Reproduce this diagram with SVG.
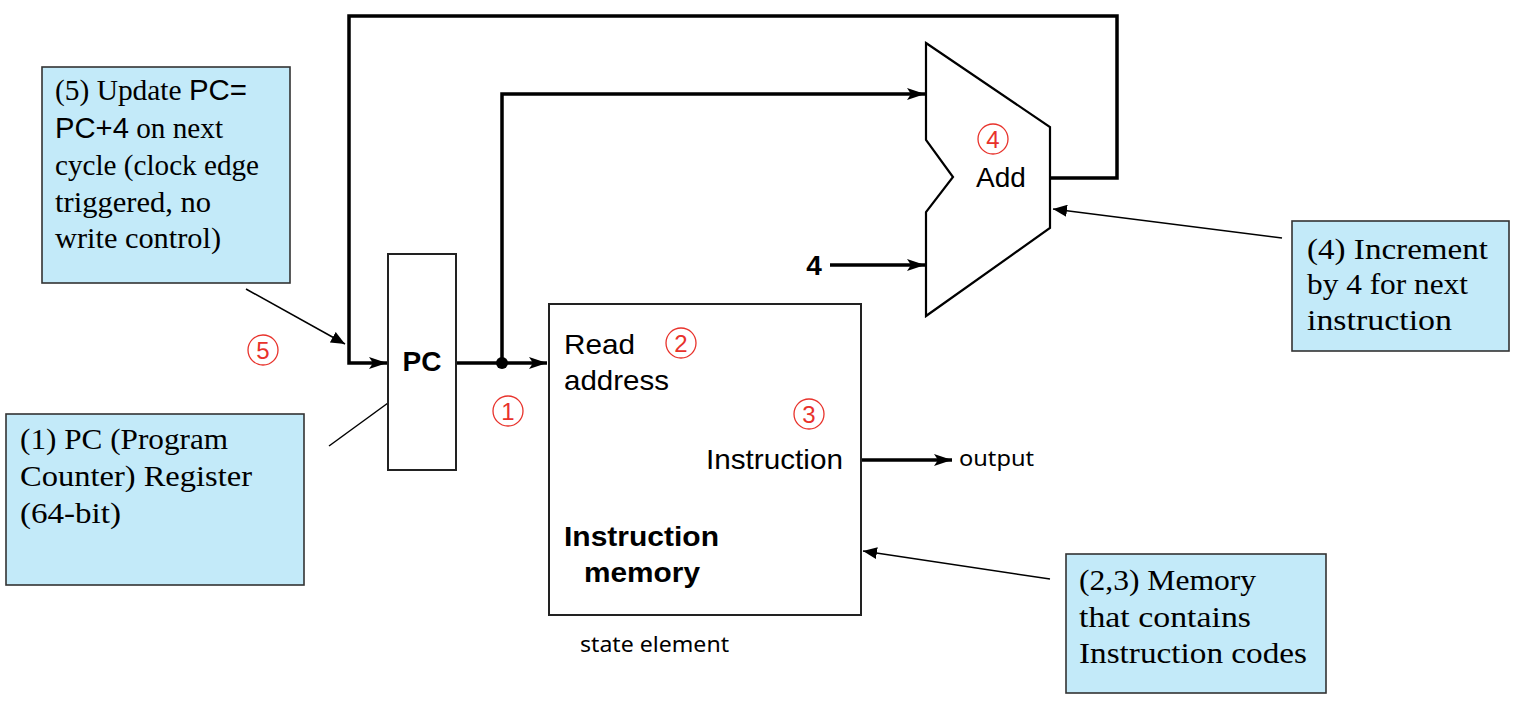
<svg xmlns="http://www.w3.org/2000/svg" width="1522" height="710" viewBox="0 0 1522 710">
<style>
.note{fill:#c3eaf9;stroke:#333;stroke-width:1.6}
.nt{font-family:"Liberation Serif",serif;font-size:30px;fill:#000}
.sans{font-family:"Liberation Sans",Arial,sans-serif}
.wire{fill:none;stroke:#000;stroke-width:3.5}
.lead{fill:none;stroke:#000;stroke-width:1.5}
.blk{fill:#fff;stroke:#222;stroke-width:2}
.lbl{font-family:"Liberation Sans",Arial,sans-serif;font-size:28px;fill:#000}
.b{font-weight:bold}
.sm{font-family:"Noto Sans","Open Sans",sans-serif;font-size:22px;fill:#000}
.num circle{fill:none;stroke:#e8322b;stroke-width:1.3}
.num text{font-family:"Liberation Sans",Arial,sans-serif;font-size:24px;fill:#e8322b;text-anchor:middle}
</style>
<defs>
<marker id="ah" markerUnits="userSpaceOnUse" markerWidth="20" markerHeight="14" refX="18" refY="7" orient="auto">
<path d="M0,1 L18,7 L0,13 L4,7 Z" fill="#000"/>
</marker>
<marker id="as" markerUnits="userSpaceOnUse" markerWidth="16" markerHeight="12" refX="14" refY="6" orient="auto">
<path d="M0,0 L14,6 L0,12 Z" fill="#000"/>
</marker>
</defs>
<rect width="1522" height="710" fill="#fff"/>

<g id="connectors">
<path class="wire" d="M1050,178 H1117 V16 H349 V363 H387" marker-end="url(#ah)"/>
<path class="wire" d="M456,363 H547" marker-end="url(#ah)"/>
<path class="wire" d="M502,363 V94 H925" marker-end="url(#ah)"/>
<path class="wire" d="M830,265 H925" marker-end="url(#ah)"/>
<path class="wire" d="M861,460 H952" marker-end="url(#ah)"/>
<circle cx="502" cy="363" r="6" fill="#000"/>
<path class="lead" d="M1282,238 L1053,209" marker-end="url(#as)"/>
<path class="lead" d="M1050,579 L863,551" marker-end="url(#as)"/>
<path class="lead" d="M246,289 L345,344" marker-end="url(#as)"/>
<path class="lead" d="M329,446 L388,403"/>
</g>

<g id="pc">
<rect class="blk" x="388" y="254" width="68" height="216"/>
<text class="lbl b" x="422" y="371" text-anchor="middle">PC</text>
</g>

<g id="instruction-memory">
<rect class="blk" x="549" y="304" width="312" height="311"/>
<text class="lbl" x="564" y="354" textLength="71" lengthAdjust="spacingAndGlyphs">Read</text>
<text class="lbl" x="564" y="390" textLength="105" lengthAdjust="spacingAndGlyphs">address</text>
<text class="lbl" x="706" y="469" textLength="137" lengthAdjust="spacingAndGlyphs">Instruction</text>
<text class="lbl b" x="564" y="546" textLength="155" lengthAdjust="spacingAndGlyphs">Instruction</text>
<text class="lbl b" x="584" y="582" textLength="116" lengthAdjust="spacingAndGlyphs">memory</text>
</g>
<text id="state-element" class="sm" x="580" y="652" textLength="149" lengthAdjust="spacingAndGlyphs">state element</text>
<text id="output" class="sm" x="959" y="466" textLength="75" lengthAdjust="spacingAndGlyphs">output</text>

<g id="adder">
<path d="M926,43 L1050,127 L1050,228 L926,316 L926,212 L953,177 L926,140 Z" fill="#fff" stroke="#000" stroke-width="2.2"/>
<text class="lbl" x="1001" y="187" text-anchor="middle">Add</text>
</g>
<text id="const4" class="lbl b" x="814" y="275" text-anchor="middle">4</text>

<g id="step-numbers" class="num">
<circle cx="508" cy="411" r="15"/><text x="508" y="420">1</text>
<circle cx="681" cy="343" r="15"/><text x="681" y="352">2</text>
<circle cx="809" cy="414" r="15"/><text x="809" y="423">3</text>
<circle cx="993" cy="139" r="15"/><text x="993" y="148">4</text>
<circle cx="263" cy="350" r="15"/><text x="263" y="359">5</text>
</g>

<g id="note5">
<rect class="note" x="42" y="67" width="248" height="216"/>
<text class="nt" x="55" y="100" textLength="192" lengthAdjust="spacingAndGlyphs">(5) Update <tspan class="sans">PC=</tspan></text>
<text class="nt" x="55" y="138" textLength="168" lengthAdjust="spacingAndGlyphs"><tspan class="sans">PC+4</tspan> on next</text>
<text class="nt" x="55" y="175" textLength="204" lengthAdjust="spacingAndGlyphs">cycle (clock edge</text>
<text class="nt" x="55" y="212" textLength="156" lengthAdjust="spacingAndGlyphs">triggered, no</text>
<text class="nt" x="55" y="248" textLength="166" lengthAdjust="spacingAndGlyphs">write control)</text>
</g>

<g id="note1">
<rect class="note" x="6" y="414" width="298" height="171"/>
<text class="nt" x="20" y="449" textLength="208" lengthAdjust="spacingAndGlyphs">(1) PC (Program</text>
<text class="nt" x="20" y="486" textLength="232" lengthAdjust="spacingAndGlyphs">Counter) Register</text>
<text class="nt" x="20" y="523" textLength="101" lengthAdjust="spacingAndGlyphs">(64-bit)</text>
</g>

<g id="note4">
<rect class="note" x="1292" y="221" width="217" height="130"/>
<text class="nt" x="1307" y="259" textLength="181" lengthAdjust="spacingAndGlyphs">(4) Increment</text>
<text class="nt" x="1307" y="294" textLength="161" lengthAdjust="spacingAndGlyphs">by 4 for next</text>
<text class="nt" x="1307" y="330" textLength="145" lengthAdjust="spacingAndGlyphs">instruction</text>
</g>

<g id="note23">
<rect class="note" x="1066" y="554" width="260" height="139"/>
<text class="nt" x="1079" y="590" textLength="177" lengthAdjust="spacingAndGlyphs">(2,3) Memory</text>
<text class="nt" x="1079" y="627" textLength="172" lengthAdjust="spacingAndGlyphs">that contains</text>
<text class="nt" x="1079" y="663" textLength="228" lengthAdjust="spacingAndGlyphs">Instruction codes</text>
</g>
</svg>
